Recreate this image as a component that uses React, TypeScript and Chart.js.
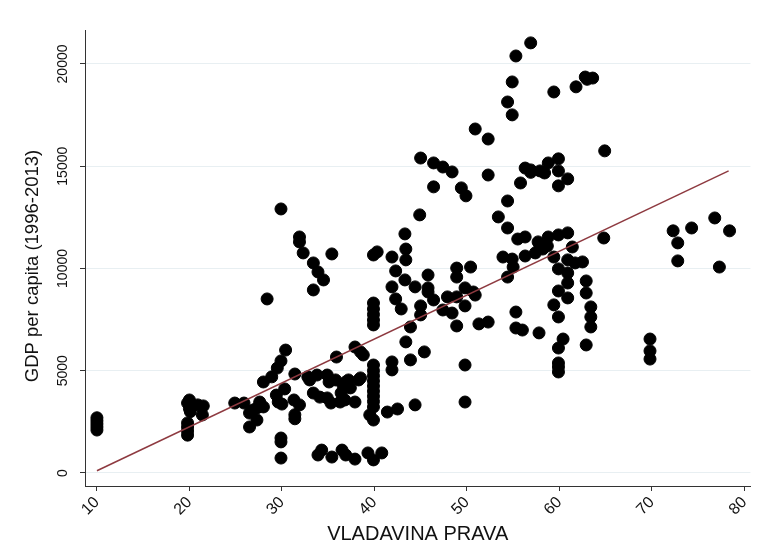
import React, { useEffect, useRef } from "react";
import { Chart, registerables } from "chart.js";

Chart.register(...registerables);

// Rule of law score (x) and GDP per capita (y)
const ruleOfLaw: number[] = [
  10, 10, 10, 10, 10,
  20, 19.8, 20.2, 20, 20.1, 20.9, 21.5, 21.4, 19.8, 19.8, 19.8, 19.8,
  24.9, 25.9, 26.5, 26.5, 26.9, 27.3, 27.3, 27.6, 28.0, 28.0, 28.9, 29.5, 29.9, 30.4,
  29.4, 29.6, 30.0, 30.3, 28.4, 29.9, 29.9, 29.9, 29.9,
  31.4, 31.3, 31.9, 31.4, 31.4, 32.8, 33.0, 33.8, 34.9, 35.1, 33.4, 34.1, 34.9, 35.3,
  36.3, 36.9, 37.2, 37.9, 38.3, 36.4, 36.6, 35.8, 36.8, 37.4,
  32.3, 31.9, 31.9, 33.4, 33.9, 34.5, 33.4, 35.4,
  33.9, 34.3, 35.4, 36.5, 36.9, 37.9, 39.3, 39.9, 40.8,
  35.9, 37.9, 38.5, 38.8,
  39.9, 39.9, 39.9, 39.9, 39.9, 39.9, 39.9, 39.9, 39.9, 39.5, 39.9,
  38.5, 41.4, 42.5, 44.4,
  39.9, 39.9, 39.9, 39.9, 39.9,
  39.9, 40.3, 41.9, 42.3, 41.9, 42.3, 42.9,
  41.9, 41.9, 43.4, 43.9, 45.4,
  43.3, 43.4, 43.4, 43.3, 44.4, 45.8, 45.8, 45.8, 46.4, 45.0, 45.0, 43.9,
  44.9, 45.0, 46.4, 47.4, 48.4, 46.4, 49.4, 49.9, 52.3, 50.9, 52.3,
  47.4, 47.9, 48.4, 48.9, 48.9, 48.9, 49.8, 49.8, 50.4, 50.9, 51.3, 52.3, 49.8, 49.8, 48.9, 50.7,
  53.9, 55.0, 54.4, 54.9, 53.4, 54.4, 54.4,
  56.9, 55.3, 54.9, 54.4, 54.9,
  55.8, 56.3, 56.9, 56.9, 57.9, 58.4, 58.8, 59.9, 59.9, 60.9, 59.9,
  59.4, 61.8, 62.8, 63.0, 63.6, 64.9,
  55.5, 56.3, 57.7, 57.9, 58.8, 59.9, 60.9, 57.4, 56.3, 61.4, 58.7, 58.2,
  59.4, 60.9, 61.7, 62.5, 59.9, 60.9, 60.9, 62.9, 62.9, 59.9, 60.9, 59.4, 59.9,
  63.4, 63.4, 63.4, 56.0, 57.8, 60.4, 59.9, 62.9, 59.9, 59.9, 59.9,
  55.3, 55.3, 64.8,
  69.8, 69.8, 69.8, 72.3, 72.8, 72.8, 74.3, 76.8, 78.4, 77.3,
];

const gdpPerCapita: number[] = [
  2700, 2550, 2400, 2250, 2100,
  3570, 3420, 3300, 3150, 3000, 3330, 3280, 2840, 2450, 2250, 2050, 1850,
  3420, 3420, 2930, 2250, 3080, 2590, 3180, 3470, 3230, 4450, 4700, 5130, 5480, 6010,
  3810, 3470, 3370, 4110, 8510, 12910, 1710, 1520, 730,
  4840, 3570, 3330, 2850, 2650, 4700, 4550, 4790, 4790, 4450, 3910, 3710, 3670, 3420,
  3470, 4450, 4550, 3470, 4550, 3910, 4300, 4550, 3570, 4160,
  10760, 11540, 11300, 10270, 9830, 9440, 8950, 10710,
  880, 1120, 780, 1120, 880, 680, 980, 640, 980,
  5670, 6160, 5920, 5770,
  5280, 5000, 4750, 4500, 4250, 4000, 3750, 3500, 3230, 2840, 2590,
  4650, 2980, 3130, 3330,
  8310, 8020, 7750, 7480, 7240,
  10660, 10810, 10560, 9880, 9100, 8510, 8020,
  5430, 5040, 6410, 5530, 5920,
  11690, 10950, 10420, 9440, 9100, 9680, 9050, 8850, 8460, 8170, 7730, 7140,
  12620, 15400, 15160, 14960, 14720, 13990, 13940, 13550, 14570, 16820, 16330,
  7970, 8610, 7820, 7190, 10020, 9580, 9050, 8170, 10070, 8700, 7290, 7380, 5280, 3470, 8610, 8850,
  10560, 10070, 9580, 10460, 12520, 11980, 13300,
  21030, 20390, 19120, 18140, 17510,
  14180, 14910, 14820, 14700, 14770, 14670, 15160, 15360, 14770, 14380, 14040,
  18630, 18880, 19360, 19250, 19310, 15750,
  11440, 11540, 11300, 11050, 11540, 11640, 11740, 10760, 10610, 11050, 11100, 10950,
  10560, 10420, 10270, 10320, 9980, 9780, 9290, 9390, 8800, 8900, 8560, 8220, 7630,
  8120, 7630, 7140, 6990, 6850, 6550, 6110, 6260, 5380, 5180, 4940,
  7870, 7090, 11490,
  6550, 5970, 5570, 11840, 11250, 10370, 11980, 12470, 11840, 10070,
];

// Fitted values (linear fit) at the ends of the data range
const fitX: number[] = [10, 78.3];
const fitY: number[] = [110, 14770];

const xTickValues: number[] = [10, 20, 30, 40, 50, 60, 70, 80];
const yTickValues: number[] = [0, 5000, 10000, 15000, 20000];

const xTitle = "VLADAVINA PRAVA";
const yTitle = "GDP per capita (1996-2013)";

const FONT = "'Liberation Sans', Arial, Helvetica, sans-serif";

// Draws the y-axis title (rotated) slightly below the plot-area centre, as in the reference
const yTitlePlugin = {
  id: "yTitlePlugin",
  afterDraw(chart: any) {
    const { ctx, chartArea } = chart;
    ctx.save();
    ctx.font = `18.5px ${FONT}`;
    ctx.fillStyle = "#111111";
    ctx.textAlign = "center";
    ctx.textBaseline = "middle";
    ctx.translate(33, (chartArea.top + chartArea.bottom) / 2 + 8);
    ctx.rotate(-Math.PI / 2);
    ctx.fillText(yTitle, 0, 0);
    ctx.restore();
  },
};

export default function App() {
  const ref = useRef<HTMLCanvasElement>(null);

  useEffect(() => {
    if (!ref.current) return;
    const pts = ruleOfLaw.map((x, i) => ({ x, y: gdpPerCapita[i] }));
    const fit = fitX.map((x, i) => ({ x, y: fitY[i] }));
    const chart = new Chart(ref.current, {
      type: "scatter",
      data: {
        datasets: [
          {
            type: "line",
            data: fit,
            borderColor: "#8e3a40",
            borderWidth: 1.5,
            pointRadius: 0,
            fill: false,
            tension: 0,
            order: 0,
          } as any,
          {
            type: "scatter",
            data: pts,
            backgroundColor: "#000000",
            borderColor: "#000000",
            borderWidth: 1,
            pointRadius: 6,
            order: 1,
          } as any,
        ],
      },
      plugins: [yTitlePlugin],
      options: {
        animation: false,
        responsive: false,
        events: [],
        layout: { padding: { top: 30, right: 8, left: 0, bottom: 0 } },
        plugins: { legend: { display: false }, tooltip: { enabled: false } },
        scales: {
          x: {
            type: "linear",
            min: 8.71,
            max: 80.66,
            afterBuildTicks: (s: any) => {
              s.ticks = xTickValues.map((v) => ({ value: v }));
            },
            afterFit: (s: any) => {
              s.height = 74;
            },
            ticks: {
              minRotation: 45,
              maxRotation: 45,
              autoSkip: false,
              padding: 2,
              color: "#111111",
              font: { family: FONT, size: 16 },
              callback: (v: any) => String(v),
            },
            grid: {
              drawOnChartArea: false,
              drawTicks: true,
              tickLength: 5,
              tickColor: "#333333",
              tickWidth: 1,
            },
            border: { display: true, color: "#333333", width: 1 },
            title: {
              display: true,
              text: xTitle,
              color: "#111111",
              font: { family: FONT, size: 20 },
              padding: { top: 0, bottom: 14 },
            },
          },
          y: {
            type: "linear",
            min: -636,
            max: 21660,
            afterBuildTicks: (s: any) => {
              s.ticks = yTickValues.map((v) => ({ value: v }));
            },
            afterFit: (s: any) => {
              s.width = 85;
            },
            ticks: {
              minRotation: 90,
              maxRotation: 90,
              crossAlign: "center",
              padding: -3,
              color: "#111111",
              font: { family: FONT, size: 14 },
              callback: (v: any) => String(v),
            },
            grid: {
              color: "#e8eff2",
              lineWidth: 1,
              drawTicks: true,
              tickLength: 5,
              tickColor: "#333333",
              tickWidth: 1,
            },
            border: { display: true, color: "#333333", width: 1 },
            title: { display: false },
          },
        },
      } as any,
    });
    return () => chart.destroy();
  }, []);

  return (
    <div style={{ position: "absolute", left: 0, top: 0, width: 760, height: 560, background: "#ffffff" }}>
      <canvas ref={ref} width={760} height={560} style={{ display: "block" }} />
    </div>
  );
}
